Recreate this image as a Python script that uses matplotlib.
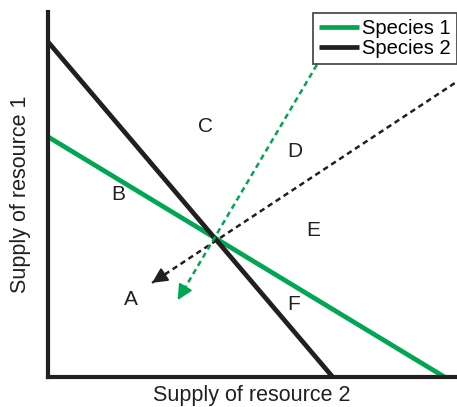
import matplotlib.pyplot as plt

plt.rcParams['font.family'] = ['Liberation Sans', 'DejaVu Sans']

# ZNGI lines: (y-intercept on resource 1 axis, x-intercept on resource 2 axis)
species_names = ['Species 1', 'Species 2']
species_colors = ['#00a651', '#231f20']
r1_intercepts = [6.58, 9.18]
r2_intercepts = [9.75, 7.0]

# consumption vectors (start, end) through the equilibrium point
vec_colors = ['#231f20', '#00a651']
vec_starts = [(10.0, 8.05), (6.61, 8.55)]
vec_ends = [(2.56, 2.58), (3.19, 2.11)]

# region labels
region_labels = ['A', 'B', 'C', 'D', 'E', 'F']
region_x = [2.04, 1.72, 3.88, 6.07, 6.51, 6.04]
region_y = [2.11, 5.0, 6.85, 6.19, 4.0, 1.99]

fig = plt.figure(figsize=(4.57, 4.07), dpi=100)
ax = fig.add_axes([0.105, 0.0737, 0.89, 0.897])
ax.set_xlim(0, 10)
ax.set_ylim(0, 10)

for name, c, y0, x0 in zip(species_names, species_colors, r1_intercepts, r2_intercepts):
    ax.plot([0, x0], [y0, 0], color=c, lw=3.4, label=name, solid_capstyle='butt', clip_on=False)

for c, s, e in zip(vec_colors, vec_starts, vec_ends):
    ax.plot([s[0], e[0]], [s[1], e[1]], color=c, lw=1.8, ls=(0, (2.2, 1.6)))
    # small arrow head at the end
    dx, dy = e[0] - s[0], e[1] - s[1]
    ax.annotate('', xy=e, xytext=(e[0] - dx * 0.05, e[1] - dy * 0.05),
                arrowprops=dict(arrowstyle='-|>,head_length=0.9,head_width=0.45',
                                color=c, lw=1.5, shrinkA=0, shrinkB=0))

for lab, x, y in zip(region_labels, region_x, region_y):
    ax.text(x, y, lab, fontsize=15, ha='center', va='center', color='#231f20')

for side in ['top', 'right']:
    ax.spines[side].set_visible(False)
for side in ['left', 'bottom']:
    ax.spines[side].set_linewidth(3)
    ax.spines[side].set_color('#231f20')
ax.set_xticks([])
ax.set_yticks([])

ax.set_xlabel('Supply of resource 2', fontsize=15.5, labelpad=6, color='#231f20')
ax.set_ylabel('Supply of resource 1', fontsize=15.5, labelpad=12, color='#231f20')

leg = ax.legend(loc='upper right', bbox_to_anchor=(1.0, 0.968), bbox_transform=fig.transFigure,
                fontsize=14.5, frameon=True, fancybox=False, handlelength=2.0,
                handletextpad=0.15, borderpad=0.3, labelspacing=0.05, borderaxespad=0)
leg.get_frame().set_edgecolor('#231f20')
leg.get_frame().set_linewidth(1.3)

fig.savefig('out.png', dpi=100)
